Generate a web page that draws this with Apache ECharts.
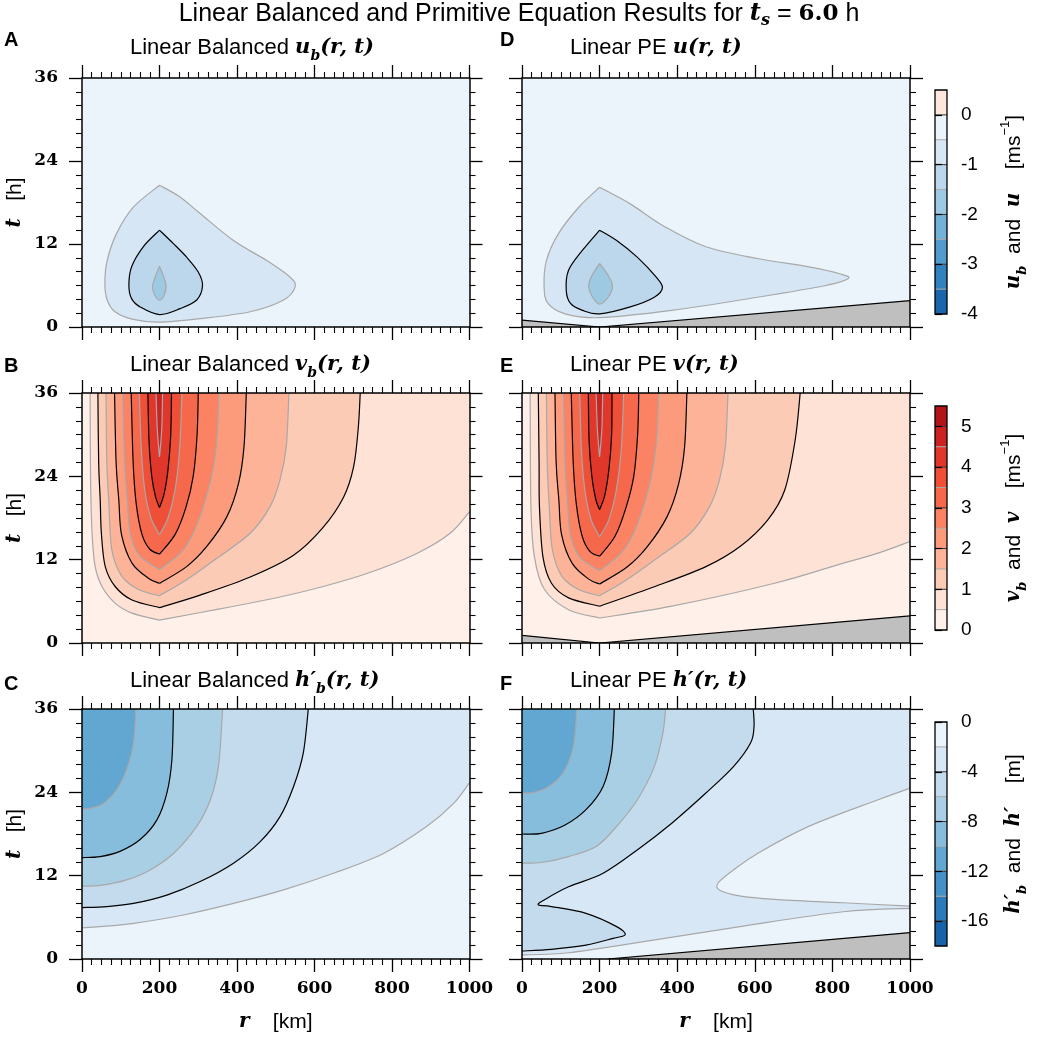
<!DOCTYPE html>
<html>
<head>
  <meta charset="utf-8">
  <title>Linear Balanced and Primitive Equation Results</title>
  <script src="https://cdn.jsdelivr.net/npm/echarts/dist/echarts.min.js"></script>
  <style>
    html, body { margin: 0; padding: 0; background: #fff; }
    #main { width: 1038px; height: 1037px; }
  </style>
</head>
<body>
<div id="main"></div>
<script>
  // ---- colour bands (lower bounds ... upper bound) ----
  var uBounds = [-4, -3.5, -3, -2.5, -2, -1.5, -1, -0.5, 0, 0.5];
  var uColors = ['#1966ad', '#3282be', '#519ccc', '#72b2d8', '#9dc9e2', '#bcd7ec', '#d6e6f4', '#ebf3fb', '#fde7dc'];
  var vBounds = [0, 0.5, 1, 1.5, 2, 2.5, 3, 3.5, 4, 4.5, 5, 5.5];
  var vColors = ['#fff0e9', '#fee2d5', '#fccbb5', '#fcb398', '#fc9b7c', '#fb8262', '#f6684b', '#ef4e37', '#e0372a', '#cc2222', '#b31419'];
  var hBounds = [-18, -16, -14, -12, -10, -8, -6, -4, -2, 0];
  var hColors = ['#1663aa', '#2b7bba', '#4391c7', '#62a6d2', '#87bddc', '#a9cfe5', '#c4dbee', '#d8e7f5', '#ecf4fb'];

  var uTicks = [-4, -3, -2, -1, 0];
  var vTicks = [0, 1, 2, 3, 4, 5];
  var hTicks = [-16, -12, -8, -4, 0];

  // ---- contours, [r km, t h]; each contour = list of branches ----
  // A: linear balanced u_b
  var uA_05 = [[[200, 20.5], [132, 17.3], [89, 13.5], [65, 9.6], [59, 6.3], [65, 3.9], [85, 2.2], [132, 1.1], [200, 0.7],
    [305, 1.2], [434, 2.2], [520, 3.9], [550, 5.8], [537, 7.2], [477, 9.6], [391, 12.5], [305, 16.4], [253, 18.8], [200, 20.5]]];
  var uA_10 = [[[200, 14], [158, 11.6], [128, 8.7], [121, 6.0], [128, 4.1], [150, 2.9], [200, 1.8],
    [253, 2.65], [296, 3.9], [311, 6.0], [300, 7.95], [270, 10.1], [236, 12.05], [200, 14]]];
  var uA_15 = [[[200, 8.8], [187, 6.9], [182, 5.8], [188, 4.6], [200, 3.9], [212, 4.6], [217, 5.8], [213, 6.9], [200, 8.8]]];

  // D: linear PE u
  var uD_05 = [[[200, 20.2], [147, 17.35], [94, 13.5], [63, 9.6], [57, 5.8], [67, 3.4], [111, 1.9], [200, 1.35],
    [386, 2.4], [607, 4.3], [783, 6.0], [841, 7.0], [819, 7.7], [739, 8.7], [607, 9.9], [474, 11.6], [368, 14.5], [279, 17.8], [200, 20.2]]];
  var uD_10 = [[[200, 14], [156, 11.1], [120, 8.2], [114, 5.3], [125, 3.4], [156, 2.4], [200, 1.9],
    [279, 2.9], [341, 4.3], [362, 5.7], [346, 7.2], [297, 10.1], [244, 12.5], [200, 14]]];
  var uD_15 = [[[200, 9.2], [178, 7.2], [172, 5.8], [182, 4.3], [200, 3.3], [222, 4.3], [233, 5.8], [225, 7.2], [200, 9.2]]];
  var uD_mask = [[0, 1.0], [200, 0], [1000, 3.8]];

  // B: linear balanced v_b
  var vB_05 = [[[21, 36], [22, 24], [26, 15.8], [34, 11], [52, 8.1], [86, 5.7], [129, 4.3], [200, 3.3]],
    [[200, 3.3], [345, 4.8], [517, 6.7], [620, 8.1], [735, 10], [864, 12.9], [950, 15.8], [1000, 18.9]]];
  var vB_10 = [[[41, 36], [43, 26], [47, 20.6], [50, 15.8], [60, 11], [86, 8.1], [129, 6.2], [200, 5.1]],
    [[200, 5.1], [305, 6.9], [434, 9.5], [545, 12.6], [620, 16.5], [675, 21], [701, 25.4], [713, 31], [718, 36]]];
  var vB_15 = [[[62, 36], [64, 26], [69, 20.6], [77, 13.4], [103, 9.6], [146, 7.7], [200, 6.8]],
    [[200, 6.8], [270, 9.1], [348, 12.2], [434, 15.8], [485, 19.6], [511, 23.5], [527, 28.2], [534, 36]]];
  var vB_20 = [[[84, 36], [88, 26], [95, 20.6], [102, 15.6], [129, 11.5], [172, 9.3], [200, 8.6]],
    [[200, 8.6], [270, 11], [322, 13.9], [374, 18.2], [404, 23], [418, 28.2], [424, 36]]];
  var vB_25 = [[[105, 36], [110, 26], [117, 20.6], [125, 15.6], [150, 12.5], [200, 10.6]],
    [[200, 10.6], [253, 12.9], [285, 15.6], [315, 20], [338, 25], [349, 30], [353, 36]]];
  var vB_30 = [[[127, 36], [132, 26], [140, 20], [155, 15.6], [175, 13.5], [200, 12.8]],
    [[200, 12.8], [240, 15.6], [268, 19.5], [287, 24], [297, 30], [300, 36]]];
  var vB_35 = [[[148, 36], [153, 28], [162, 22], [178, 18], [200, 15.6]],
    [[200, 15.6], [222, 18], [240, 22], [252, 28], [258, 36]]];
  var vB_40 = [[[170, 36], [173, 29], [180, 24], [190, 21], [200, 19.5]],
    [[200, 19.5], [212, 21.5], [222, 25], [229, 30], [231, 36]]];
  var vB_45 = [[[191, 36], [194, 31], [198, 28], [200, 26.8]],
    [[200, 26.8], [202, 28], [206, 31], [208, 36]]];

  // E: linear PE v
  var vE_05 = [[[21, 36], [23, 19.6], [32, 12.4], [58, 7.7], [120, 4.8], [200, 3.6]],
    [[200, 3.6], [386, 5.3], [651, 8.6], [828, 11.5], [916, 12.9], [1000, 14.6]]];
  var vE_10 = [[[42, 36], [44, 26], [45, 19.6], [54, 12.4], [76, 8.6], [120, 6.5], [200, 5.3]],
    [[200, 5.3], [341, 8.1], [474, 11], [562, 13.9], [633, 17.7], [677, 22], [704, 29.2], [717, 36]]];
  var vE_15 = [[[63, 36], [65, 26], [70, 20], [78, 13.5], [103, 9.6], [146, 7.7], [200, 6.8]],
    [[200, 6.8], [270, 9.1], [348, 12.2], [434, 15.8], [483, 19.6], [509, 23.5], [524, 28.2], [531, 36]]];
  var vE_20 = [[[85, 36], [88, 26], [95, 20.6], [102, 15.6], [129, 11.5], [172, 9.2], [200, 8.5]],
    [[200, 8.5], [270, 10.9], [322, 13.8], [374, 18.2], [404, 23], [419, 28.2], [425, 36]]];
  var vE_25 = [[[107, 36], [111, 26], [117, 20.6], [125, 15.5], [150, 12.3], [200, 10.4]],
    [[200, 10.4], [253, 12.8], [285, 15.5], [315, 20], [337, 25], [348, 30], [352, 36]]];
  var vE_30 = [[[127, 36], [132, 26], [140, 20], [155, 15.4], [175, 13.2], [200, 12.5]],
    [[200, 12.5], [240, 15.4], [268, 19.5], [288, 24], [298, 30], [301, 36]]];
  var vE_35 = [[[149, 36], [153, 28], [162, 22], [178, 17.8], [200, 15.3]],
    [[200, 15.3], [224, 17.8], [243, 22], [256, 28], [262, 36]]];
  var vE_40 = [[[171, 36], [173, 29], [180, 24], [190, 20.7], [200, 19.2]],
    [[200, 19.2], [213, 21.2], [224, 25], [231, 30], [232, 36]]];
  var vE_45 = [[[191, 36], [194, 31], [198, 28], [200, 26.8]],
    [[200, 26.8], [202, 28], [206, 31], [208, 36]]];
  var vE_mask = [[0, 1.1], [200, 0], [1000, 3.9]];

  // C: linear balanced h'_b
  var hC_02 = [[[0, 4.5], [47, 4.66], [133, 5.14], [262, 6.34], [391, 8.0], [520, 9.95], [649, 12.35], [778, 15.2], [890, 19.1], [959, 22.4], [1000, 25.4]]];
  var hC_04 = [[[0, 7.4], [64, 7.55], [133, 8.0], [219, 9.2], [305, 11.15], [391, 13.8], [460, 16.9], [511, 20.5], [546, 24.85], [571, 29.65], [584, 36]]];
  var hC_06 = [[[0, 10.5], [47, 10.6], [115, 11.4], [176, 12.83], [236, 15.2], [296, 19.1], [331, 22.9], [352, 27.7], [363, 36]]];
  var hC_08 = [[[0, 14.6], [47, 14.75], [98, 15.5], [150, 17.2], [193, 20], [219, 23.9], [232, 28.7], [236, 36]]];
  var hC_10 = [[[0, 21.6], [21, 21.7], [55, 22.4], [90, 24.4], [115, 27.25], [133, 31.1], [139, 36]]];

  // F: linear PE h'
  var hF_02 = [[[0, 0.58], [120, 0.9], [297, 2.35], [562, 4.66], [828, 6.8], [1000, 7.3]],
    [[1000, 7.6], [828, 8.1], [651, 8.6], [560, 9.1], [510, 9.9], [505, 10.9], [540, 12.6], [607, 15.2], [739, 19.1], [916, 22.9], [1000, 24.6]]];
  var hF_04 = [[[0, 1.15], [76, 1.4], [165, 2.0], [235, 2.98], [266, 3.5], [244, 4.66], [165, 6.58], [76, 7.55], [42, 7.8],
    [60, 8.6], [120, 10.4], [209, 12.35], [297, 15.7], [386, 19.56], [474, 23.9], [545, 27.7], [589, 31.1], [598, 33.5], [596, 36]]];
  var hF_06 = [[[0, 13.8], [50, 13.9], [120, 14.75], [191, 16.2], [244, 19.1], [297, 22.9], [341, 27.7], [363, 32.5], [370, 36]]];
  var hF_08 = [[[0, 18.0], [50, 18.1], [111, 19.3], [165, 21.5], [209, 24.85], [231, 29.65], [238, 36]]];
  var hF_10 = [[[0, 23.9], [32, 24], [76, 25.1], [111, 27.25], [134, 31.1], [141, 36]]];
  var hF_mask = [[220, 0], [1000, 3.8]];

  // ---- styles / layout ----
  var SANS = "'Liberation Sans', Arial, sans-serif";
  var SERIF = "'DejaVu Serif', serif";
  var GRAY_LINE = '#a8a8a8';
  var colLeft = [82, 522], colWidth = [387.5, 388];
  var rowTop = [78, 393, 709], rowHeight = [249, 250, 250];

  var kinds = {
    u: { bounds: uBounds, colors: uColors, step: 0.5, below: true, major: 1, base: -0.5 },
    v: { bounds: vBounds, colors: vColors, step: 0.5, below: false, major: 1, base: 0 },
    h: { bounds: hBounds, colors: hColors, step: 2, below: true, major: 4, base: -2 }
  };
  function band(k, lo) { return k.colors[k.bounds.indexOf(lo)]; }

  var panels = [
    { tag: 'A', row: 0, col: 0, kind: 'u', title: '{s|Linear Balanced }{m|u}{sub|b}{m|(r, t)}',
      layers: [[uA_05, -0.5], [uA_10, -1], [uA_15, -1.5]] },
    { tag: 'D', row: 0, col: 1, kind: 'u', title: '{s|Linear PE }{m|u(r, t)}',
      layers: [[uD_05, -0.5], [uD_10, -1], [uD_15, -1.5]], mask: [uD_mask, [[1000, 0], [0, 0]]] },
    { tag: 'B', row: 1, col: 0, kind: 'v', title: '{s|Linear Balanced }{m|v}{sub|b}{m|(r, t)}',
      layers: [[vB_05, 0.5, [[1000, 36]]], [vB_10, 1], [vB_15, 1.5], [vB_20, 2], [vB_25, 2.5], [vB_30, 3], [vB_35, 3.5], [vB_40, 4], [vB_45, 4.5]] },
    { tag: 'E', row: 1, col: 1, kind: 'v', title: '{s|Linear PE }{m|v(r, t)}',
      layers: [[vE_05, 0.5, [[1000, 36]]], [vE_10, 1], [vE_15, 1.5], [vE_20, 2], [vE_25, 2.5], [vE_30, 3], [vE_35, 3.5], [vE_40, 4], [vE_45, 4.5]],
      mask: [vE_mask, [[1000, 0], [0, 0]]] },
    { tag: 'C', row: 2, col: 0, kind: 'h', title: '{s|Linear Balanced }{m|h′}{sub|b}{m|(r, t)}',
      layers: [[hC_02, -2, [[1000, 36], [0, 36]]], [hC_04, -4, [[0, 36]]], [hC_06, -6, [[0, 36]]], [hC_08, -8, [[0, 36]]], [hC_10, -10, [[0, 36]]]] },
    { tag: 'F', row: 2, col: 1, kind: 'h', title: '{s|Linear PE }{m|h′(r, t)}',
      layers: [[hF_02, -2, [[1000, 36], [0, 36]]], [hF_04, -4, [[0, 36]]], [hF_06, -6, [[0, 36]]], [hF_08, -8, [[0, 36]]], [hF_10, -10, [[0, 36]]]],
      mask: [hF_mask, [[1000, 0]]] }
  ];

  // smooth (Catmull-Rom) path through data points, via the axes
  function pathOf(api, branches, joined, smooth) {
    var d = '';
    branches.forEach(function (br, k) {
      var p = br.map(function (q) { return api.coord(q); });
      d += (k > 0 && joined ? ' L' : ' M') + p[0][0] + ',' + p[0][1];
      for (var i = 0; i + 1 < p.length; i++) {
        var a = p[i - 1] || p[i], b = p[i], c = p[i + 1], e = p[i + 2] || c;
        if (!smooth) { d += ' L' + c[0] + ',' + c[1]; continue; }
        d += ' C' + (b[0] + (c[0] - a[0]) / 6) + ',' + (b[1] + (c[1] - a[1]) / 6) + ' ' +
          (c[0] - (e[0] - b[0]) / 6) + ',' + (c[1] - (e[1] - b[1]) / 6) + ' ' + c[0] + ',' + c[1];
      }
    });
    return joined ? d + ' Z' : d;
  }

  function makeRich(size) {
    return {
      s: { fontFamily: SANS, fontSize: size, lineHeight: 30, color: '#000', fill: '#000' },
      m: { fontFamily: SERIF, fontSize: size - 1, fontStyle: 'italic', fontWeight: 'bold', lineHeight: 30, color: '#000', fill: '#000' },
      sub: { fontFamily: SERIF, fontSize: Math.round(size * 0.62), fontStyle: 'italic', fontWeight: 'bold', lineHeight: 15, verticalAlign: 'bottom', color: '#000', fill: '#000' },
      sup: { fontFamily: SANS, fontSize: Math.round(size * 0.62), lineHeight: 15, verticalAlign: 'top', color: '#000', fill: '#000' },
      b: { fontFamily: SERIF, fontSize: size - 2, fontWeight: 'bold', lineHeight: 30, color: '#000', fill: '#000' }
    };
  }
  var rich = makeRich(21);
  var richTitle = makeRich(22);
  var richMain = makeRich(25);

  var grids = [], xAxes = [], yAxes = [], series = [], texts = [];
  function plain(v) { return String(v); }

  panels.forEach(function (p, i) {
    var k = kinds[p.kind];
    grids.push({ left: colLeft[p.col], top: rowTop[p.row], width: colWidth[p.col], height: rowHeight[p.row], outerBoundsMode: 'none' });
    [false, true].forEach(function (top) {
      var lab = !top && p.row === 2;
      xAxes.push({
        type: 'value', gridIndex: i, position: top ? 'top' : 'bottom', min: 0, max: 1000, interval: 200, z: 5,
        axisLine: { show: true, onZero: false, lineStyle: { color: '#000', width: 1.5 } },
        axisTick: { show: true, inside: false, length: 13, lineStyle: { color: '#000', width: 1.3 } },
        minorTick: { show: true, splitNumber: 8, length: 6, lineStyle: { color: '#000', width: 1.1 } },
        splitLine: { show: false }, minorSplitLine: { show: false },
        axisLabel: { show: lab, margin: 21, formatter: plain, fontFamily: SERIF, fontWeight: 'bold', fontSize: 17, color: '#000' },
        name: lab ? '{m|r}{s|    [km]}' : '', nameLocation: 'middle', nameGap: 48,
        nameTextStyle: { rich: rich }
      });
      var ylab = !top && p.col === 0;
      yAxes.push({
        type: 'value', gridIndex: i, position: top ? 'right' : 'left', min: 0, max: 36, interval: 12, z: 5,
        axisLine: { show: true, onZero: false, lineStyle: { color: '#000', width: 1.5 } },
        axisTick: { show: true, inside: false, length: 13, lineStyle: { color: '#000', width: 1.3 } },
        minorTick: { show: true, splitNumber: 6, length: 6, lineStyle: { color: '#000', width: 1.1 } },
        splitLine: { show: false }, minorSplitLine: { show: false },
        axisLabel: { show: ylab, margin: 24, formatter: plain, fontFamily: SERIF, fontWeight: 'bold', fontSize: 17, color: '#000' },
        name: ylab ? '{m|t}{s|   [h]}' : '', nameLocation: 'middle', nameRotate: 90, nameGap: 52,
        nameTextStyle: { rich: rich }
      });
    });

    series.push({
      type: 'custom', coordinateSystem: 'cartesian2d', xAxisIndex: 2 * i, yAxisIndex: 2 * i,
      clip: true, silent: true, z: 2, data: [[0, 0]],
      renderItem: function (params, api) {
        var kids = [];
        kids.push({ type: 'path', shape: { pathData: pathOf(api, [[[0, 0], [1000, 0], [1000, 36], [0, 36]]], true, false) },
          style: { fill: band(k, k.base), stroke: null } });
        p.layers.forEach(function (L) {
          var lo = k.below ? L[1] - k.step : L[1];
          var parts = L[0].concat((L[2] || []).map(function (c) { return [c]; }));
          kids.push({ type: 'path', shape: { pathData: pathOf(api, parts, true, true) },
            style: { fill: band(k, lo), stroke: null } });
        });
        p.layers.forEach(function (L) {
          var major = Math.abs(L[1] % k.major) < 1e-9;
          kids.push({ type: 'path', shape: { pathData: pathOf(api, L[0], false, true) },
            style: { fill: null, stroke: major ? '#000' : GRAY_LINE, lineWidth: 1.2 } });
        });
        if (p.mask) {
          var mparts = [p.mask[0]].concat(p.mask[1].map(function (c) { return [c]; }));
          kids.push({ type: 'path', shape: { pathData: pathOf(api, mparts, true, false) },
            style: { fill: '#bfbfbf', stroke: null } });
          kids.push({ type: 'path', shape: { pathData: pathOf(api, [p.mask[0]], false, false) },
            style: { fill: null, stroke: '#000', lineWidth: 1.2 } });
        }
        return { type: 'group', children: kids };
      }
    });

    var tx = colLeft[p.col] + 48;
    var ty = [48, 365, 681][p.row];
    texts.push({ type: 'text', x: tx, y: ty,
      style: { text: p.title, rich: richTitle, align: 'left', verticalAlign: 'middle', textAlign: 'left', textVerticalAlign: 'middle' } });
    texts.push({ type: 'text', x: p.col === 0 ? 4 : 500, y: [40, 366, 684][p.row],
      style: { text: p.tag, fontFamily: SANS, fontWeight: 'bold', fontSize: 20, fill: '#000',
        align: 'left', verticalAlign: 'middle', textAlign: 'left', textVerticalAlign: 'middle' } });
  });

  // ---- colour bars ----
  var bars = [
    { k: kinds.u, ticks: uTicks, top: 90, name: '{m|u}{sub|b}{s|  and  }{m|u}{s|    [ms}{sup|−1}{s|]}' },
    { k: kinds.v, ticks: vTicks, top: 406, name: '{m|v}{sub|b}{s|  and  }{m|v}{s|    [ms}{sup|−1}{s|]}' },
    { k: kinds.h, ticks: hTicks, top: 722, name: '{m|h′}{sub|b}{s|  and  }{m|h′}{s|    [m]}' }
  ];
  bars.forEach(function (cb, j) {
    var gi = panels.length + j;
    var ai = xAxes.length;
    var bnd = cb.k.bounds;
    grids.push({ left: 935, top: cb.top, width: 12, height: 224, outerBoundsMode: 'none' });
    xAxes.push({ type: 'value', gridIndex: gi, min: 0, max: 1, show: false });
    yAxes.push({
      type: 'value', gridIndex: gi, position: 'right', min: bnd[0], max: bnd[bnd.length - 1], z: 5,
      axisLine: { show: false },
      axisTick: { show: true, inside: false, length: 7, customValues: cb.ticks, lineStyle: { color: '#000', width: 1.2 } },
      axisLabel: { show: true, customValues: cb.ticks, margin: 14, formatter: plain, fontFamily: SANS, fontSize: 19, color: '#000' },
      splitLine: { show: false },
      name: cb.name, nameLocation: 'middle', nameRotate: 90, nameGap: 52,
      nameTextStyle: { rich: rich }
    });
    series.push({
      type: 'custom', coordinateSystem: 'cartesian2d', xAxisIndex: ai, yAxisIndex: ai,
      silent: true, data: [[0, 0]],
      renderItem: function (params, api) {
        var kids = [];
        for (var i = 0; i < cb.k.colors.length; i++) {
          var a = api.coord([0, bnd[i + 1]]), b = api.coord([1, bnd[i]]);
          kids.push({ type: 'rect', shape: { x: a[0], y: a[1], width: b[0] - a[0], height: b[1] - a[1] }, style: { fill: cb.k.colors[i] } });
        }
        for (var m = 1; m < bnd.length - 1; m++) {
          var l = api.coord([0, bnd[m]]), r = api.coord([1, bnd[m]]);
          var major = Math.abs(bnd[m] % cb.k.major) < 1e-9;
          kids.push({ type: 'line', shape: { x1: l[0], y1: l[1], x2: r[0], y2: r[1] },
            style: { stroke: major ? '#333' : GRAY_LINE, lineWidth: 1 } });
        }
        var c0 = api.coord([0, bnd[bnd.length - 1]]), c1 = api.coord([1, bnd[0]]);
        kids.push({ type: 'rect', shape: { x: c0[0], y: c0[1], width: c1[0] - c0[0], height: c1[1] - c0[1] },
          style: { fill: null, stroke: '#000', lineWidth: 1.3 } });
        return { type: 'group', children: kids };
      }
    });
  });

  texts.push({ type: 'text', x: 519, y: 14,
    style: { text: '{s|Linear Balanced and Primitive Equation Results for }{m|t}{sub|s}{s| = }{b|6.0}{s| h}', rich: richMain,
      align: 'center', verticalAlign: 'middle', textAlign: 'center', textVerticalAlign: 'middle' } });

  var chart = echarts.init(document.getElementById('main'));
  chart.setOption({
    animation: false,
    backgroundColor: '#fff',
    grid: grids,
    xAxis: xAxes,
    yAxis: yAxes,
    series: series,
    graphic: { elements: texts }
  });
  window.onresize = function () { chart.resize(); };
</script>
</body>
</html>
